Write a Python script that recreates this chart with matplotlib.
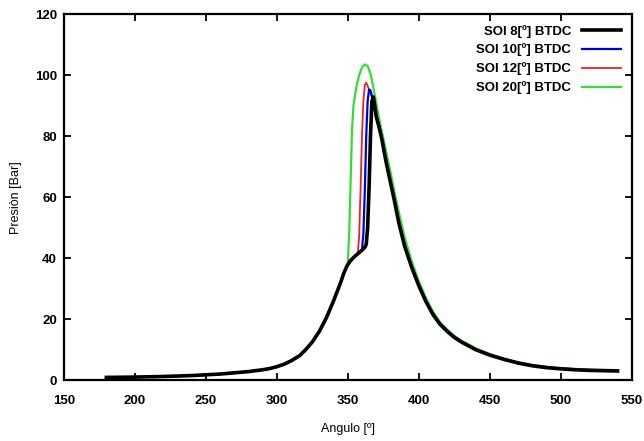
import numpy as np
import matplotlib
matplotlib.use('Agg')
import matplotlib.pyplot as plt

plt.rcParams['font.family'] = ['Liberation Sans', 'DejaVu Sans']

# common compression branch (all SOI cases)
ang_base = [180, 200, 220, 240, 260, 270, 280, 290, 295, 300, 305, 310, 316, 320, 325, 330, 335, 340, 345, 347, 349]
p_base = [0.9, 1.0, 1.2, 1.5, 2.0, 2.4, 2.8, 3.4, 3.8, 4.4, 5.2, 6.3, 8.0, 9.8, 12.5, 16.0, 20.5, 26.0, 32.0, 34.8, 37.0]

# motored part before each ignition + combustion peak + expansion
ang_8 = [350, 352, 355, 358, 360, 362, 363, 364, 365, 366, 367, 368, 369, 370, 372, 374, 377, 380, 383,
         386, 390, 395, 400, 405, 410, 415, 420, 425, 430, 440, 450, 460, 470, 480, 490, 500, 510, 520, 530, 540]
p_8 = [37.9, 39.2, 40.6, 41.8, 42.6, 43.5, 44.5, 50.0, 63.0, 80.0, 91.5, 92.8, 90.0, 86.5, 83.0, 79.0, 71.5, 65.0, 58.5,
       51.5, 44.0, 37.0, 31.0, 25.8, 21.5, 18.3, 16.0, 14.0, 12.5, 10.0, 8.2, 6.8, 5.6, 4.7, 4.1, 3.7, 3.4, 3.2, 3.1, 3.0]

ang_10 = [350, 352, 355, 358, 360, 361, 362, 363, 364, 365, 366, 367, 368, 369, 370, 372, 374, 377, 380, 383,
          386, 390, 395, 400, 405, 410, 415, 420, 425, 430, 440, 450, 460, 470, 480, 490, 500, 510, 520, 530, 540]
p_10 = [37.9, 39.2, 40.6, 41.8, 42.6, 48.0, 62.0, 80.0, 91.5, 95.3, 95.0, 93.3, 91.5, 89.3, 86.8, 83.2, 79.2, 71.6, 65.1, 58.6,
        51.6, 44.1, 37.1, 31.1, 25.9, 21.6, 18.4, 16.1, 14.1, 12.6, 10.1, 8.3, 6.9, 5.7, 4.8, 4.2, 3.8, 3.5, 3.3, 3.2, 3.1]

ang_12 = [350, 352, 355, 357, 358, 359, 360, 361, 362, 363, 364, 366, 368, 370, 372, 374, 377, 380, 383,
          386, 390, 395, 400, 405, 410, 415, 420, 425, 430, 440, 450, 460, 470, 480, 490, 500, 510, 520, 530, 540]
p_12 = [37.9, 39.2, 40.6, 41.4, 47.0, 62.0, 80.0, 91.5, 96.8, 97.5, 96.5, 94.0, 91.5, 88.0, 83.8, 79.6, 72.0, 65.4, 58.9,
        51.9, 44.3, 37.3, 31.3, 26.0, 21.7, 18.5, 16.2, 14.2, 12.7, 10.2, 8.4, 7.0, 5.8, 4.9, 4.3, 3.9, 3.6, 3.4, 3.3, 3.2]

ang_20 = [350, 351, 352, 353, 354, 356, 358, 360, 362, 364, 366, 368, 370, 372, 374, 377, 380, 383,
          386, 390, 395, 400, 405, 410, 415, 420, 425, 430, 440, 450, 460, 470, 480, 490, 500, 510, 520, 530, 540]
p_20 = [38.3, 48.0, 65.0, 82.0, 90.0, 96.0, 100.0, 102.5, 103.5, 103.0, 100.5, 96.0, 91.0, 86.0, 81.5, 75.0, 68.5, 61.5,
        55.0, 47.0, 39.0, 32.5, 27.0, 22.5, 19.0, 16.6, 14.6, 13.0, 10.5, 8.6, 7.1, 5.9, 5.0, 4.4, 4.0, 3.7, 3.5, 3.4, 3.3]

series = [
    ('SOI 8[º] BTDC', ang_8, p_8, 'black', 2.6),
    ('SOI 10[º] BTDC', ang_10, p_10, '#0000dd', 1.6),
    ('SOI 12[º] BTDC', ang_12, p_12, '#ee2020', 1.3),
    ('SOI 20[º] BTDC', ang_20, p_20, '#33dd33', 1.6),
]

fig = plt.figure(figsize=(6.44, 4.41), dpi=100)
ax = fig.add_axes([0.099, 0.138, 0.882, 0.830])

# green/red/blue first so black sits on top; legend keeps original order
handles = {}
for lab, a, p, c, lw in reversed(series):
    h, = ax.plot(ang_base + a, p_base + p, color=c, lw=lw, label=lab,
                 zorder=3 if c == 'black' else 2)
    handles[lab] = h

ax.set_xlim(150, 550)
ax.set_ylim(0, 120)
ax.set_xticks(np.arange(150, 551, 50))
ax.set_yticks(np.arange(0, 121, 20))
ax.tick_params(direction='in', top=True, right=True, length=5, width=1.3, labelsize=9.5)
ax.tick_params(axis='x', pad=11)
ax.tick_params(axis='y', pad=5)
for t in ax.get_xticklabels() + ax.get_yticklabels():
    t.set_fontweight('bold')
for s in ax.spines.values():
    s.set_linewidth(1.6)

ax.set_xlabel('Angulo [º]', fontsize=9, labelpad=11)
ax.set_ylabel('Presiòn [Bar]', fontsize=9, labelpad=9)

leg = ax.legend([handles[s[0]] for s in series], [s[0] for s in series],
                loc='upper right', frameon=False, markerfirst=False,
                handlelength=3.0, labelspacing=0.45, fontsize=9.5,
                borderaxespad=0.4, handletextpad=0.8)
for t in leg.get_texts():
    t.set_fontweight('bold')

fig.savefig('out.png', dpi=100)
